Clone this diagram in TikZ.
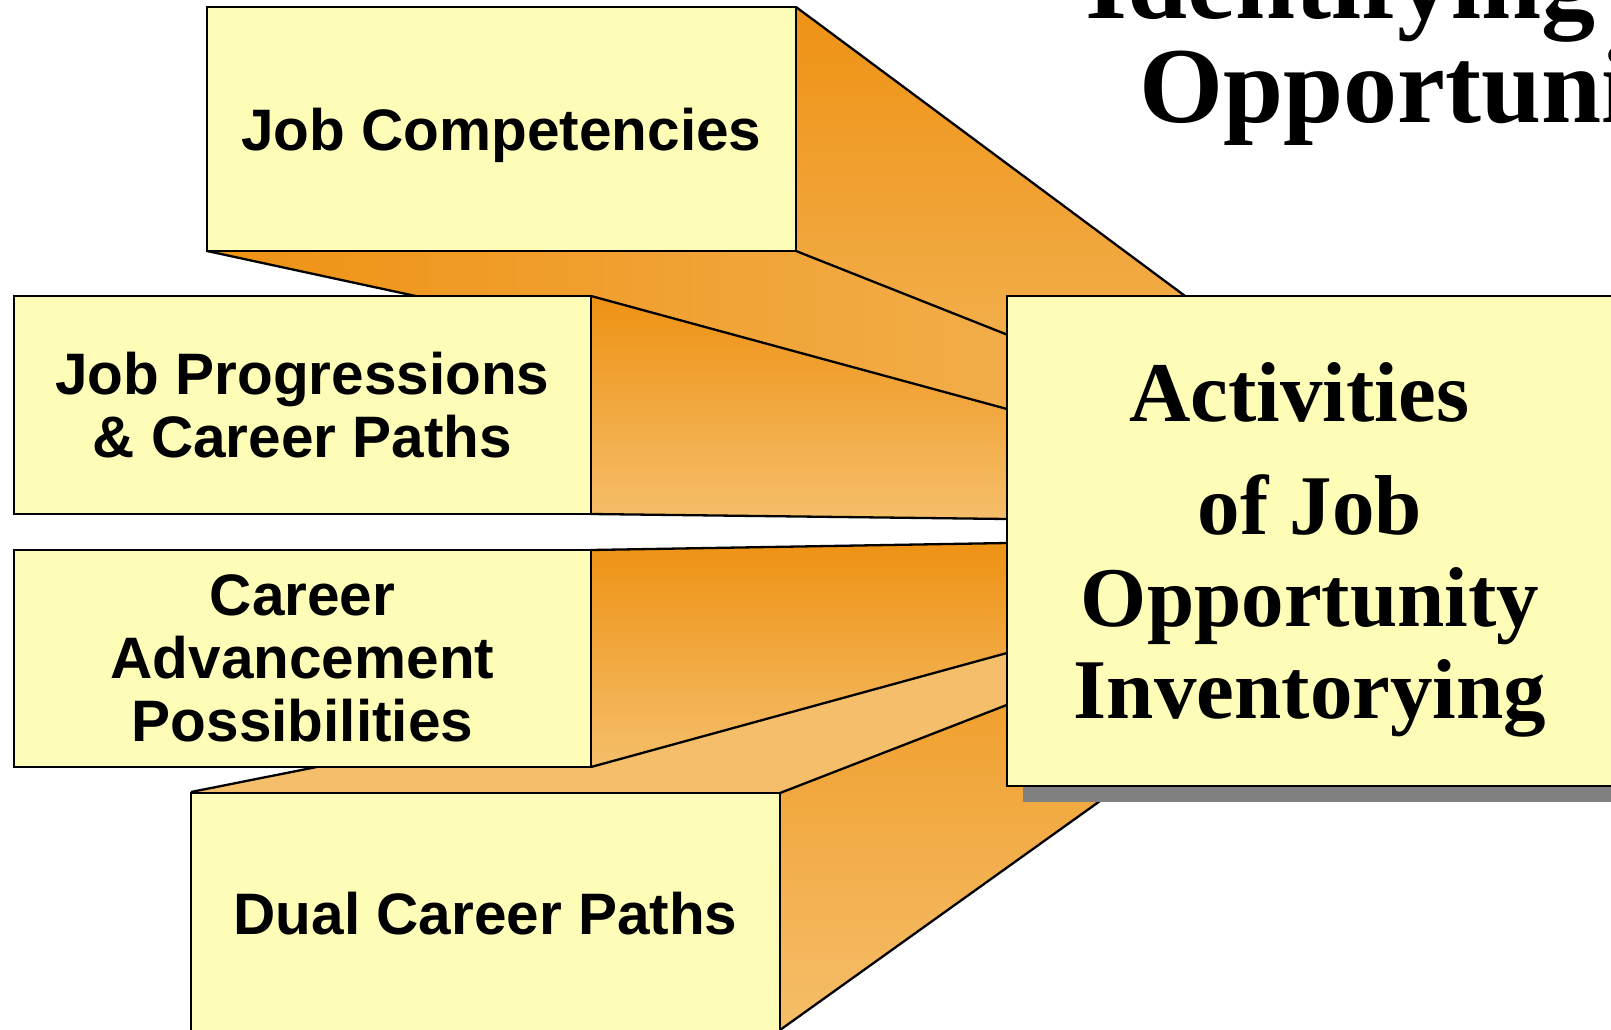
\documentclass[tikz,border=0pt]{standalone}
\usepackage{fontspec}
\setmainfont{Liberation Serif}
\newfontfamily\arialfont{Liberation Sans}
\usetikzlibrary{shadows}
\definecolor{boxyellow}{RGB}{253,253,184}
\definecolor{orangedark}{RGB}{238,146,20}
\definecolor{orangelight}{RGB}{245,190,106}
\definecolor{shadowgray}{RGB}{128,128,128}
\tikzset{
    smallbox/.style={draw, line width=2.5pt, fill=boxyellow, inner sep=0pt, align=center, text depth=0pt,
        font=\arialfont\bfseries\fontsize{58.5}{63}\selectfont},
    bigbox/.style={draw, line width=2.5pt, fill=boxyellow, inner sep=0pt, align=center, text depth=0pt,
        font=\bfseries\fontsize{85}{92}\selectfont,
        drop shadow={shadow xshift=16pt, shadow yshift=-16pt, fill=shadowgray, opacity=1}},
    faceline/.style={line width=2.3pt, line join=round},
    titletext/.style={anchor=base west, inner sep=0pt, font=\bfseries\fontsize{108}{108}\selectfont}
}

\begin{document}
\begin{tikzpicture}[x=1pt,y=-1pt]
            \useasboundingbox (0,0) rectangle (1611,1030);

            \shade[top color=orangedark, bottom color=orangelight] (796,7)--(1500,530)--(796,251)--cycle;
            \shade[left color=orangedark, right color=orangelight] (207,251)--(796,251)--(1500,530)--cycle;
            \draw[faceline] (796,7)--(1500,530);
            \draw[faceline] (796,251)--(1500,530);
            \draw[faceline] (207,251)--(1500,530);
            \node[smallbox, minimum width=589pt, minimum height=244pt] (comp) at (501.5,129) {Job Competencies};

            \fill[orangelight] (191,792)--(780,793)--(1406,550)--cycle;
            \shade[top color=orangedark, bottom color=orangelight] (780,793)--(1406,550)--(1406,582)--(780,1030)--cycle;
            \draw[faceline] (191,792)--(1406,550);
            \draw[faceline] (780,793)--(1406,550);
            \draw[faceline] (780,1030)--(1406,582);
            \node[smallbox, minimum width=589pt, minimum height=240pt] (dual) at (485.5,913) {Dual Career Paths};

            \shade[top color=orangedark, bottom color=orangelight] (591,296)--(1007,409)--(1007,519)--(591,514)--cycle;
            \draw[faceline] (591,296)--(1007,409);
            \draw[faceline] (591,514)--(1007,519);
            \node[smallbox, minimum width=577pt, minimum height=218pt] (prog) at (302.5,405) {Job Progressions\\ \& Career Paths};

            \shade[top color=orangedark, bottom color=orangelight] (591,550)--(1007,543)--(1007,653)--(591,767)--cycle;
            \draw[faceline] (591,550)--(1007,543);
            \draw[faceline] (591,767)--(1007,653);
            \node[smallbox, minimum width=577pt, minimum height=217pt] (career) at (302.5,658.5) {Career\\ Advancement\\ Possibilities};

            \node[bigbox, minimum width=606pt, minimum height=490pt] (inventory) at (1310,541)
                {\mbox{Activities\ }\\[21pt] of Job\\ Opportunity\\ Inventorying};

            \node[titletext] (titleone) at (1085,19) {Identifying};
            \node[titletext] (titletwo) at (1139,123) {Opportuni};
        \end{tikzpicture}
\end{document}
